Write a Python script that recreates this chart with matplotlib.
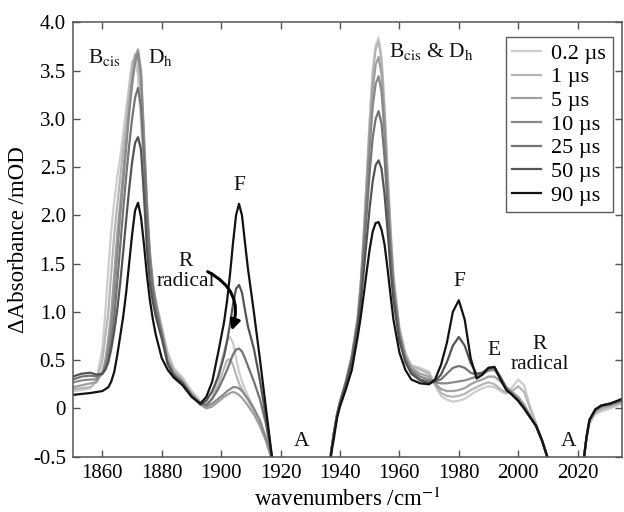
import numpy as np
import matplotlib
matplotlib.use("Agg")
import matplotlib.pyplot as plt

plt.rcParams['font.family'] = ['Liberation Serif', 'DejaVu Serif']
plt.rcParams['mathtext.fontset'] = 'stix'
plt.rcParams['axes.unicode_minus'] = False

# wavenumber grid (cm-1); readings below -0.5 fall in the bleach gaps
wn = [1850, 1853, 1856, 1858, 1860, 1861, 1862, 1863, 1864, 1865, 1866, 1867,
      1868, 1869, 1870, 1871, 1872, 1873, 1874, 1875, 1876, 1877, 1878,
      1880, 1882, 1884, 1887, 1890, 1893,
      1895, 1897, 1899, 1901, 1902, 1903, 1904, 1905, 1906, 1907, 1908, 1909,
      1911, 1913, 1915, 1917, 1919,
      1936, 1937, 1938, 1939, 1940, 1942, 1944, 1946, 1947, 1948, 1949, 1950,
      1951, 1952, 1953, 1954, 1955, 1956, 1957, 1958, 1960, 1962, 1964, 1967,
      1970, 1972, 1974, 1976, 1978, 1980, 1982, 1984, 1986, 1988, 1990, 1992,
      1994, 1996, 1998, 2000, 2002, 2004, 2006, 2008, 2010, 2011,
      2021, 2022, 2023, 2024, 2026, 2028, 2031, 2035]

d_02 = [0.18, 0.19, 0.21, 0.30, 0.62, 1.00, 1.45, 1.85, 2.15, 2.40, 2.60, 2.85,
        3.10, 3.35, 3.60, 3.62, 3.45, 2.95, 2.35, 1.80, 1.45, 1.25, 1.12,
        0.85, 0.58, 0.42, 0.32, 0.18, 0.08,
        0.02, 0.12, 0.35, 0.60, 0.70, 0.74, 0.68, 0.52, 0.38, 0.28, 0.20, 0.13,
        0.00, -0.14, -0.32, -0.52, -0.95,
        -1.0, -0.45, -0.25, -0.06, 0.07, 0.28, 0.55, 0.95, 1.30, 1.82, 2.40, 3.00,
        3.50, 3.76, 3.84, 3.64, 3.12, 2.48, 1.88, 1.38, 0.84, 0.58, 0.45, 0.42,
        0.38, 0.24, 0.13, 0.09, 0.07, 0.08, 0.10, 0.14, 0.18, 0.21, 0.23, 0.22,
        0.18, 0.15, 0.22, 0.30, 0.24, 0.02, -0.15, -0.32, -0.52, -1.0,
        -1.0, -0.55, -0.32, -0.16, -0.06, -0.03, 0.00, 0.05]

d_1 = [0.20, 0.21, 0.22, 0.28, 0.50, 0.75, 1.00, 1.42, 1.80, 2.10, 2.40, 2.68,
       2.95, 3.25, 3.52, 3.67, 3.60, 3.20, 2.60, 2.00, 1.55, 1.28, 1.10,
       0.82, 0.55, 0.40, 0.30, 0.17, 0.06,
       0.02, 0.10, 0.25, 0.42, 0.50, 0.51, 0.45, 0.35, 0.26, 0.20, 0.14, 0.09,
       -0.02, -0.15, -0.32, -0.52, -0.95,
       -1.0, -0.45, -0.25, -0.06, 0.07, 0.28, 0.55, 0.95, 1.30, 1.80, 2.38, 2.95,
       3.45, 3.72, 3.80, 3.60, 3.10, 2.45, 1.85, 1.36, 0.82, 0.56, 0.44, 0.40,
       0.36, 0.25, 0.16, 0.13, 0.12, 0.13, 0.15, 0.19, 0.22, 0.25, 0.27, 0.25,
       0.20, 0.16, 0.18, 0.23, 0.17, 0.00, -0.16, -0.33, -0.52, -1.0,
       -1.0, -0.55, -0.30, -0.14, -0.04, -0.01, 0.02, 0.06]

d_5 = [0.22, 0.24, 0.26, 0.27, 0.38, 0.50, 0.72, 1.00, 1.40, 1.80, 2.12, 2.45,
       2.78, 3.10, 3.40, 3.64, 3.72, 3.50, 2.85, 2.15, 1.62, 1.30, 1.10,
       0.80, 0.50, 0.37, 0.28, 0.14, 0.04,
       0.00, 0.02, 0.07, 0.12, 0.14, 0.16, 0.17, 0.16, 0.14, 0.11, 0.07, 0.03,
       -0.06, -0.18, -0.33, -0.52, -0.95,
       -1.0, -0.45, -0.25, -0.06, 0.07, 0.28, 0.54, 0.93, 1.28, 1.75, 2.30, 2.85,
       3.30, 3.56, 3.64, 3.46, 3.00, 2.38, 1.80, 1.32, 0.80, 0.54, 0.42, 0.36,
       0.33, 0.26, 0.20, 0.18, 0.18, 0.19, 0.21, 0.25, 0.28, 0.30, 0.33, 0.33,
       0.28, 0.22, 0.17, 0.12, 0.04, -0.07, -0.17, -0.33, -0.52, -1.0,
       -1.0, -0.55, -0.30, -0.13, -0.03, 0.01, 0.03, 0.07]

d_10 = [0.27, 0.29, 0.30, 0.30, 0.36, 0.45, 0.62, 0.85, 1.18, 1.60, 2.00, 2.35,
        2.70, 3.05, 3.35, 3.58, 3.68, 3.45, 2.75, 2.08, 1.58, 1.27, 1.06,
        0.78, 0.48, 0.36, 0.27, 0.14, 0.05,
        0.02, 0.05, 0.10, 0.15, 0.18, 0.20, 0.22, 0.22, 0.21, 0.18, 0.14, 0.10,
        0.00, -0.12, -0.30, -0.52, -0.95,
        -1.0, -0.45, -0.25, -0.07, 0.06, 0.27, 0.53, 0.92, 1.25, 1.70, 2.20, 2.70,
        3.12, 3.36, 3.44, 3.28, 2.85, 2.28, 1.72, 1.28, 0.78, 0.52, 0.40, 0.33,
        0.30, 0.27, 0.26, 0.26, 0.27, 0.28, 0.29, 0.31, 0.33, 0.36, 0.39, 0.40,
        0.32, 0.22, 0.15, 0.10, 0.02, -0.08, -0.18, -0.33, -0.52, -1.0,
        -1.0, -0.55, -0.30, -0.12, -0.02, 0.02, 0.04, 0.08]

d_25 = [0.30, 0.33, 0.34, 0.33, 0.36, 0.42, 0.52, 0.70, 0.95, 1.30, 1.68, 2.05,
        2.40, 2.72, 3.00, 3.22, 3.32, 3.12, 2.60, 1.95, 1.50, 1.22, 1.02,
        0.76, 0.47, 0.35, 0.27, 0.14, 0.05,
        0.04, 0.10, 0.20, 0.33, 0.40, 0.48, 0.56, 0.61, 0.62, 0.59, 0.52, 0.44,
        0.28, 0.10, -0.15, -0.50, -0.95,
        -1.0, -0.45, -0.24, -0.07, 0.06, 0.27, 0.52, 0.90, 1.20, 1.60, 2.02, 2.45,
        2.80, 3.00, 3.08, 2.95, 2.60, 2.10, 1.62, 1.22, 0.75, 0.50, 0.38, 0.30,
        0.28, 0.28, 0.30, 0.36, 0.42, 0.44, 0.42, 0.37, 0.35, 0.37, 0.41, 0.42,
        0.33, 0.21, 0.15, 0.08, 0.00, -0.09, -0.18, -0.33, -0.52, -1.0,
        -1.0, -0.55, -0.30, -0.12, -0.01, 0.03, 0.05, 0.09]

d_50 = [0.33, 0.36, 0.37, 0.35, 0.36, 0.40, 0.48, 0.62, 0.80, 1.02, 1.30, 1.62,
        1.95, 2.27, 2.55, 2.75, 2.81, 2.68, 2.20, 1.65, 1.30, 1.10, 0.95,
        0.72, 0.46, 0.34, 0.26, 0.13, 0.04,
        0.08, 0.18, 0.33, 0.55, 0.70, 0.88, 1.08, 1.24, 1.28, 1.20, 1.02, 0.85,
        0.62, 0.30, -0.08, -0.48, -0.95,
        -1.0, -0.45, -0.25, -0.08, 0.05, 0.25, 0.48, 0.85, 1.10, 1.42, 1.75, 2.08,
        2.35, 2.52, 2.57, 2.48, 2.22, 1.85, 1.45, 1.12, 0.70, 0.48, 0.36, 0.29,
        0.26, 0.28, 0.35, 0.48, 0.65, 0.74, 0.65, 0.47, 0.36, 0.37, 0.42, 0.43,
        0.32, 0.20, 0.14, 0.08, 0.00, -0.09, -0.18, -0.33, -0.52, -1.0,
        -1.0, -0.55, -0.30, -0.12, -0.01, 0.03, 0.05, 0.09]

d_90 = [0.14, 0.15, 0.16, 0.17, 0.18, 0.20, 0.22, 0.28, 0.38, 0.55, 0.75, 0.95,
        1.20, 1.50, 1.80, 2.05, 2.13, 1.98, 1.70, 1.38, 1.12, 0.92, 0.76,
        0.52, 0.40, 0.32, 0.24, 0.12, 0.05,
        0.12, 0.28, 0.58, 0.90, 1.12, 1.40, 1.72, 2.00, 2.12, 2.00, 1.72, 1.45,
        1.00, 0.52, 0.02, -0.48, -0.95,
        -1.0, -0.48, -0.30, -0.10, 0.02, 0.20, 0.40, 0.75, 0.95, 1.18, 1.42, 1.65,
        1.83, 1.92, 1.93, 1.85, 1.70, 1.45, 1.18, 0.92, 0.58, 0.40, 0.30, 0.26,
        0.25, 0.30, 0.45, 0.68, 1.00, 1.12, 0.92, 0.52, 0.31, 0.35, 0.42, 0.43,
        0.30, 0.19, 0.14, 0.08, 0.00, -0.09, -0.18, -0.33, -0.52, -1.0,
        -1.0, -0.55, -0.30, -0.12, -0.01, 0.03, 0.05, 0.10]

delays = ['0.2 µs', '1 µs', '5 µs', '10 µs', '25 µs', '50 µs', '90 µs']
spectra = [d_02, d_1, d_5, d_10, d_25, d_50, d_90]
shades = ['#cdcdcd', '#b6b6b6', '#a0a0a0', '#8a8a8a', '#747474', '#545454', '#121212']

fig = plt.figure(figsize=(6.24, 5.12), dpi=100)
ax = fig.add_axes([0.1165, 0.108, 0.8805, 0.8485])

for lab, ys, c in zip(delays, spectra, shades):
    ax.plot(wn, ys, color=c, lw=1.6, label=lab)

ax.set_xlim(1850, 2035)
ax.set_ylim(-0.5, 4.0)
ax.set_xticks([1860, 1880, 1900, 1920, 1940, 1960, 1980, 2000, 2020])
yt = [-0.5, 0, 0.5, 1.0, 1.5, 2.0, 2.5, 3.0, 3.5, 4.0]
ax.set_yticks(yt)
ax.set_yticklabels(['0' if v == 0 else f'{v:.1f}' for v in yt])
ax.tick_params(direction='in', length=5, width=1, top=True, right=True,
               labelsize=15, color='#555555', pad=5)
for sp in ax.spines.values():
    sp.set_color('#555555')
    sp.set_linewidth(1.1)

ax.set_xlabel('wavenumbers /cm$^{-1}$', fontsize=16.5, labelpad=4)
ax.set_ylabel('ΔAbsorbance /mOD', fontsize=16.5, labelpad=3)

# band assignments
tk = dict(fontsize=15.5, color='#111111')
ax.text(1855.3, 3.64, r'B$_{\rm cis}$', ha='left', va='center', **tk)
ax.text(1875.2, 3.64, r'D$_{\rm h}$', ha='left', va='center', **tk)
ax.text(1956.6, 3.70, r'B$_{\rm cis}$ & D$_{\rm h}$', ha='left', va='center', **tk)
ax.text(1906.0, 2.31, 'F', ha='center', va='center', **tk)
ax.text(1888.0, 1.52, 'R', ha='center', va='center', **tk)
ax.text(1888.0, 1.31, 'radical', ha='center', va='center', **tk)
ax.text(1980.3, 1.31, 'F', ha='center', va='center', **tk)
ax.text(1991.8, 0.60, 'E', ha='center', va='center', **tk)
ax.text(2007.3, 0.66, 'R', ha='center', va='center', **tk)
ax.text(2007.3, 0.45, 'radical', ha='center', va='center', **tk)
ax.text(1927.0, -0.34, 'A', ha='center', va='center', **tk)
ax.text(2016.9, -0.34, 'A', ha='center', va='center', **tk)

ax.annotate('', xy=(1903.2, 0.78), xytext=(1894.6, 1.43),
            arrowprops=dict(arrowstyle='-|>', color='black', lw=2.2,
                            mutation_scale=15,
                            connectionstyle='arc3,rad=-0.45'))

leg = ax.legend(loc='upper right', bbox_to_anchor=(0.983, 0.967),
                fontsize=16, frameon=True, fancybox=False,
                edgecolor='#333333', handlelength=1.3, handletextpad=0.45,
                labelspacing=0.14, borderpad=0.3, borderaxespad=0)
leg.get_frame().set_linewidth(1.0)

fig.savefig('out.png', dpi=100)
